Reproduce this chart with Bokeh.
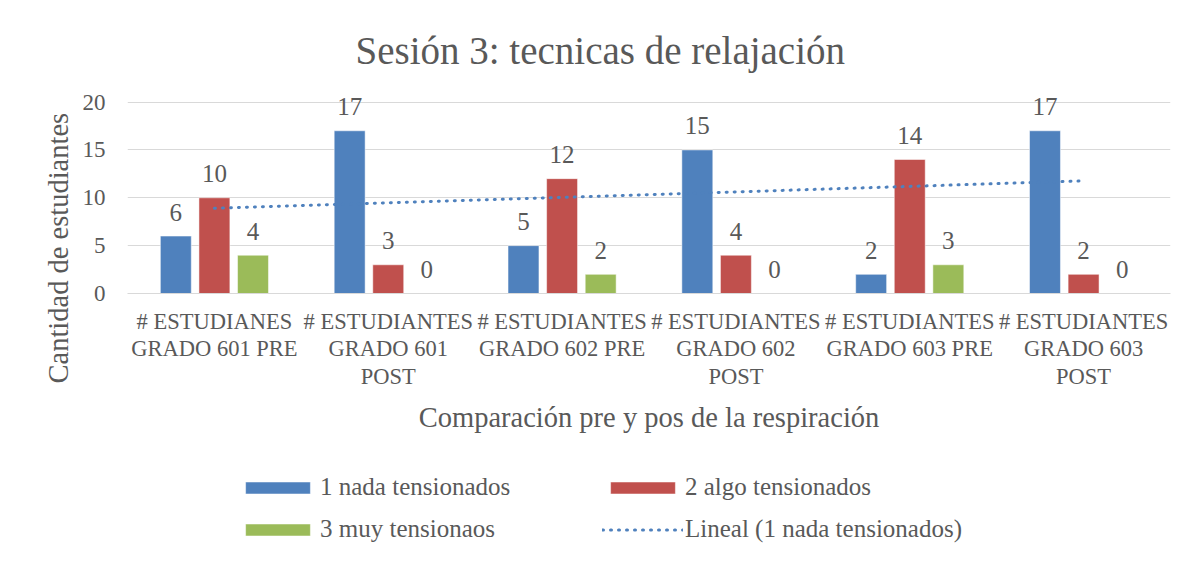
import numpy as np
from bokeh.plotting import figure
from bokeh.layouts import column
from bokeh.models import (ColumnDataSource, FactorRange, Range1d, FixedTicker,
                          Legend, LegendItem, Title)
from bokeh.transform import dodge
from bokeh.core.properties import value
from bokeh.embed import file_html
from bokeh.resources import INLINE

categories = ["# ESTUDIANES\nGRADO 601 PRE", "# ESTUDIANTES\nGRADO 601\nPOST",
              "# ESTUDIANTES\nGRADO 602 PRE", "# ESTUDIANTES\nGRADO 602\nPOST",
              "# ESTUDIANTES\nGRADO 603 PRE", "# ESTUDIANTES\nGRADO 603\nPOST"]
nada = [6, 17, 5, 15, 2, 17]
algo = [10, 3, 12, 4, 14, 2]
muy = [4, 0, 2, 0, 3, 0]
series_names = ["1 nada tensionados", "2 algo tensionados", "3 muy tensionaos"]
trend_name = "Lineal (1 nada tensionados)"
y_ticks = [0, 5, 10, 15, 20]

FONT = "Liberation Serif"
TXT = "#595959"
colors = ["#4F81BD", "#C0504D", "#9BBB59"]
TREND_COLOR = "#4F81BD"

# linear trend of first series
xs = np.arange(1, len(nada) + 1)
slope, intercept = np.polyfit(xs, nada, 1)
trend = list(slope * xs + intercept)

src = ColumnDataSource(dict(cat=categories, nada=nada, algo=algo, muy=muy,
                            nada_t=[str(v) for v in nada], algo_t=[str(v) for v in algo],
                            muy_t=[str(v) for v in muy], trend=trend))

MAIN_H = 455
p = figure(width=1190, height=MAIN_H, x_range=FactorRange(*categories, range_padding=0),
           y_range=Range1d(0, 21), output_backend="svg", toolbar_location=None,
           min_border_left=127, min_border_right=20, min_border_top=92,
           min_border_bottom=MAIN_H - 293)
p.outline_line_color = None
p.xgrid.grid_line_color = None
p.ygrid.grid_line_color = "#D9D9D9"
p.ygrid.grid_line_width = 1
p.yaxis.ticker = FixedTicker(ticks=y_ticks)

# title
p.title.text = "Sesión 3: tecnicas de relajación"
p.title.align = "left"
p.title.offset = 228
p.title.text_font = FONT
p.title.text_font_size = "39px"
p.title.text_font_style = "normal"
p.title.text_color = TXT
p.title.standoff = 42

for ax in (p.xaxis[0], p.yaxis[0]):
    ax.major_tick_line_color = None
    ax.minor_tick_line_color = None
    ax.major_tick_out = 0
    ax.major_label_text_font = FONT
    ax.major_label_text_color = TXT
p.yaxis.axis_line_color = None
p.yaxis.major_label_text_font_size = "23px"
p.yaxis.major_label_standoff = 22
p.xaxis.axis_line_color = "#D9D9D9"
p.xaxis.major_label_text_font_size = "22.5px"
p.xaxis.major_label_text_line_height = 1.1
p.xaxis.major_label_standoff = 15
p.xaxis.major_label_orientation = "horizontal"
p.xaxis.axis_label = "Comparación pre y pos de la respiración"
p.xaxis.axis_label_text_font = FONT
p.xaxis.axis_label_text_font_size = "28.5px"
p.xaxis.axis_label_text_font_style = "normal"
p.xaxis.axis_label_text_color = TXT
p.xaxis.axis_label_standoff = 10

# y axis title as a side title so it can sit lower than the frame centre
ytitle = Title(text="Cantidad de estudiantes", align="left", offset=-90,
               text_font=FONT, text_font_size="28.5px", text_font_style="normal",
               text_color=TXT, standoff=12)
p.add_layout(ytitle, "left")

offsets = [-0.222, 0.0, 0.222]
fields = ["nada", "algo", "muy"]
for f, off, c in zip(fields, offsets, colors):
    p.vbar(x=dodge("cat", off, range=p.x_range), top=f, width=0.178, source=src,
           fill_color=c, line_color="white", line_alpha=0.5, line_width=1)
    p.text(x=dodge("cat", off, range=p.x_range), y=f, text=f + "_t", source=src,
           text_font=value(FONT), text_font_size="25px", text_color=TXT,
           text_align="center", text_baseline="alphabetic", y_offset=-24)

p.line(x="cat", y="trend", source=src, line_color=TREND_COLOR, line_width=3,
       line_dash="1 7", line_cap="round")

# legend panel (separate figure so nothing is clipped); its renderers only
# provide the legend swatches (zero-size glyphs)
LEG_H = 563 - MAIN_H
q = figure(width=1190, height=LEG_H, x_range=Range1d(0, 1), y_range=Range1d(0, 1),
           output_backend="svg", toolbar_location=None, x_axis_type=None, y_axis_type=None,
           min_border=0)
q.outline_line_color = None
q.grid.visible = False
swatch = ColumnDataSource(dict(x=[0.5], y=[0.0]))
lr = [q.vbar(x="x", top="y", width=0.0, source=swatch, fill_color=c,
             line_color="white", line_alpha=0.5, line_width=1) for c in colors]
lt = q.line(x="x", y="y", source=swatch, line_color=TREND_COLOR, line_width=3,
            line_dash="1 7", line_cap="round")

legend = Legend(items=[LegendItem(label=series_names[0], renderers=[lr[0]]),
                       LegendItem(label=series_names[1], renderers=[lr[1]]),
                       LegendItem(label=series_names[2], renderers=[lr[2]]),
                       LegendItem(label=trend_name, renderers=[lt])],
                location=(110, 20), orientation="horizontal", ncols=2,
                glyph_width=81, glyph_height=15, label_height=28, label_width=268,
                spacing=14, label_standoff=2, padding=0, margin=0,
                label_text_font=FONT, label_text_font_size="25px",
                label_text_color=TXT, border_line_color=None,
                background_fill_alpha=0)
q.add_layout(legend)

layout = column(p, q, spacing=0)
open("out.html", "w").write(file_html(layout, INLINE))
